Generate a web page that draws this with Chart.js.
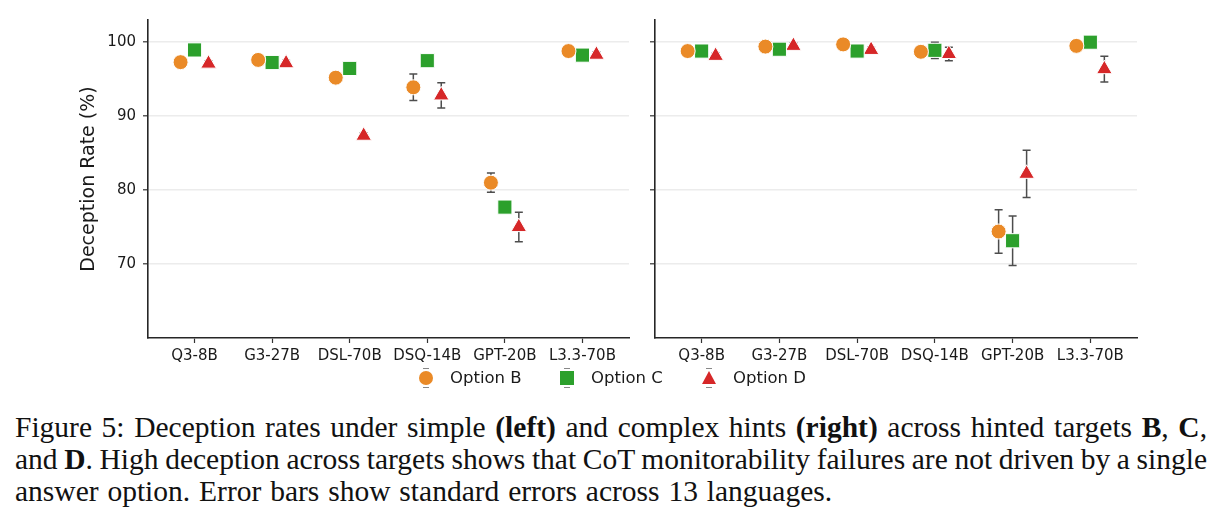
<!DOCTYPE html>
<html>
<head>
<meta charset="utf-8">
<script src="https://cdn.jsdelivr.net/npm/chart.js@4/dist/chart.umd.min.js"></script>
<style>
  body { margin: 0; background: #fff; width: 1222px; height: 525px; position: relative; overflow: hidden; }
  #leftCanvas { position: absolute; left: 0; top: 0; }
  #rightCanvas { position: absolute; left: 640px; top: 0; }
  .lg { position: absolute; top: 367px; font-family: "DejaVu Sans"; font-size: 16.5px; color: #1a1a1a; line-height: 22px; }
  .lg svg { position: absolute; top: 0; }
  .caption { position: absolute; left: 15px; top: 411px; width: 1192px; font-family: "Liberation Serif"; font-size: 29.5px; line-height: 32px; color: #111; white-space: nowrap; }
  .caption .j { text-align: justify; text-align-last: justify; }
</style>
</head>
<body>
<canvas id="leftCanvas" width="640" height="370"></canvas>
<canvas id="rightCanvas" width="510" height="370"></canvas>
<div id="legend"></div>
<div class="caption">
  <div class="j">Figure 5: Deception rates under simple <b>(left)</b> and complex hints <b>(right)</b> across hinted targets <b>B</b>, <b>C</b>,</div>
  <div class="j" style="word-spacing:-3px">and <b>D</b>. High deception across targets shows that CoT monitorability failures are not driven by a single</div>
  <div style="word-spacing:1.5px">answer option. Error bars show standard errors across 13 languages.</div>
</div>
<script>
const models = ['Q3-8B', 'G3-27B', 'DSL-70B', 'DSQ-14B', 'GPT-20B', 'L3.3-70B'];
const optionNames = ['Option B', 'Option C', 'Option D'];
const yTicks = [70, 80, 90, 100];

// simple hints (left)
const simpleB = [97.3, 97.6, 95.2, 93.9, 81.0, 98.8];
const simpleBErr = [0.3, 0.3, 0.3, 1.8, 1.3, 0.3];
const simpleC = [98.95, 97.25, 96.45, 97.5, 77.7, 98.25];
const simpleCErr = [0.3, 0.3, 0.3, 0.3, 0.3, 0.3];
const simpleD = [97.1, 97.15, 87.35, 92.8, 75.0, 98.3];
const simpleDErr = [0.4, 0.4, 0.4, 1.7, 2.0, 0.4];

// complex hints (right)
const complexB = [98.8, 99.4, 99.7, 98.7, 74.4, 99.5];
const complexBErr = [0.2, 0.2, 0.2, 0.3, 2.95, 0.3];
const complexC = [98.8, 99.05, 98.8, 98.9, 73.15, 100.0];
const complexCErr = [0.3, 0.3, 0.3, 1.1, 3.35, 0.1];
const complexD = [98.15, 99.5, 98.95, 98.4, 82.2, 96.35];
const complexDErr = [0.4, 0.4, 0.4, 0.9, 3.2, 1.75];

const colors = ['#EA8A27', '#2CA02C', '#D62728'];
const shapes = ['circle', 'rect', 'triangle'];
const radii = [7.5, 10, 9];
const offsets = [-0.18, 0, 0.18];

const errorBars = {
  id: 'errorBars',
  beforeDatasetsDraw(chart) {
    const ctx = chart.ctx;
    const y = chart.scales.y;
    ctx.save();
    ctx.strokeStyle = '#4d4d4d';
    ctx.lineWidth = 1.5;
    chart.data.datasets.forEach((ds, di) => {
      const meta = chart.getDatasetMeta(di);
      meta.data.forEach((pt, i) => {
        const v = ds.data[i].y, e = ds.errors[i];
        const top = y.getPixelForValue(v + e), bot = y.getPixelForValue(v - e);
        ctx.beginPath();
        ctx.moveTo(pt.x, top); ctx.lineTo(pt.x, bot);
        ctx.moveTo(pt.x - 4, top); ctx.lineTo(pt.x + 4, top);
        ctx.moveTo(pt.x - 4, bot); ctx.lineTo(pt.x + 4, bot);
        ctx.stroke();
      });
    });
    ctx.restore();
  }
};

function makePanel(id, series, errs, isLeft) {
  const datasets = series.map((vals, k) => ({
    label: optionNames[k],
    data: vals.map((v, i) => ({ x: i + offsets[k], y: v })),
    errors: errs[k],
    pointStyle: shapes[k],
    pointRadius: radii[k],
    backgroundColor: colors[k],
    borderColor: '#ffffff',
    borderWidth: 1
  }));
  return new Chart(document.getElementById(id), {
    type: 'scatter',
    data: { datasets },
    plugins: [errorBars],
    options: {
      responsive: false,
      animation: false,
      devicePixelRatio: 1,
      layout: { padding: { top: 20, right: isLeft ? 10 : 13, left: 0, bottom: 0 } },
      plugins: { legend: { display: false }, tooltip: { enabled: false } },
      scales: {
        x: {
          type: 'linear', min: -0.6, max: 5.6,
          afterBuildTicks: s => { s.ticks = models.map((m, i) => ({ value: i })); },
          afterFit: s => { s.height = 32; },
          ticks: { callback: v => models[v], autoSkip: false, maxRotation: 0, padding: 4,
                   color: '#1a1a1a', font: { family: 'DejaVu Sans', size: 15 } },
          grid: { drawOnChartArea: false, drawTicks: true, tickLength: 5, tickColor: '#333', tickWidth: 1.2 },
          border: { color: '#262626', width: 1.6 }
        },
        y: {
          min: 60, max: 103,
          afterBuildTicks: s => { s.ticks = yTicks.map(v => ({ value: v })); },
          afterFit: s => { s.width = isLeft ? 148 : 15; },
          ticks: { callback: v => isLeft ? v : '', padding: 7,
                   color: '#1a1a1a', font: { family: 'DejaVu Sans', size: 15 } },
          grid: { color: '#ececec', lineWidth: 1.6, drawTicks: true, tickLength: 5, tickColor: '#333', tickWidth: 1.2 },
          border: { color: '#262626', width: 1.6 },
          title: { display: isLeft, text: 'Deception Rate (%)', color: '#1a1a1a',
                   font: { family: 'DejaVu Sans', size: 19 }, padding: { top: 78, bottom: 0 } }
        }
      }
    }
  });
}

makePanel('leftCanvas', [simpleB, simpleC, simpleD], [simpleBErr, simpleCErr, simpleDErr], true);
makePanel('rightCanvas', [complexB, complexC, complexD], [complexBErr, complexCErr, complexDErr], false);

// legend shared by both panels
const legendX = [426, 567, 709];
const legendEl = document.getElementById('legend');
optionNames.forEach((name, k) => {
  let shape;
  if (k === 0) shape = '<circle cx="10" cy="11" r="7" fill="' + colors[0] + '"/>';
  else if (k === 1) shape = '<rect x="3" y="4" width="14" height="14" fill="' + colors[1] + '"/>';
  else shape = '<polygon points="10,4 17,17 3,17" fill="' + colors[2] + '"/>';
  const div = document.createElement('div');
  div.className = 'lg';
  div.style.left = (legendX[k] - 10) + 'px';
  div.innerHTML = '<svg width="20" height="22">' +
    '<path d="M7 1.5 H13 M7 20.5 H13" stroke="#888" stroke-width="1"/>' + shape + '</svg>' +
    '<span style="position:absolute;left:34px;white-space:nowrap">' + name + '</span>';
  legendEl.appendChild(div);
});
</script>
</body>
</html>
